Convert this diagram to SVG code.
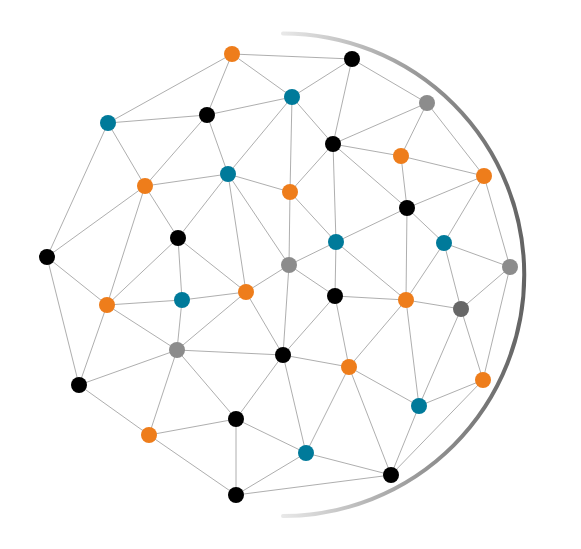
<svg xmlns="http://www.w3.org/2000/svg" width="581" height="549" viewBox="0 0 581 549">
<defs>
<linearGradient id="arcg" gradientUnits="userSpaceOnUse" x1="283" y1="0" x2="525" y2="0">
<stop offset="0" stop-color="#e8e8e8"/>
<stop offset="0.55" stop-color="#9a9a9a"/>
<stop offset="1" stop-color="#636363"/>
</linearGradient>
</defs>
<style>
.e line{stroke:#999;stroke-width:0.8}
.o{fill:#ee7d1b}.b{fill:#007a9a}.k{fill:#000}.g{fill:#8c8c8c}.d{fill:#676767}
</style>
<rect width="581" height="549" fill="#fff"/>
<path d="M283,33.5 A241.25,241.25 0 0 1 283,516" fill="none" stroke="url(#arcg)" stroke-width="4" stroke-linecap="round"/>
<g class="e" id="connectors">
<line x1="232" y1="54" x2="352" y2="59"/>
<line x1="232" y1="54" x2="108" y2="123"/>
<line x1="232" y1="54" x2="207" y2="115"/>
<line x1="232" y1="54" x2="292" y2="97"/>
<line x1="108" y1="123" x2="207" y2="115"/>
<line x1="108" y1="123" x2="145" y2="186"/>
<line x1="108" y1="123" x2="47" y2="257"/>
<line x1="207" y1="115" x2="292" y2="97"/>
<line x1="207" y1="115" x2="145" y2="186"/>
<line x1="207" y1="115" x2="228" y2="174"/>
<line x1="292" y1="97" x2="352" y2="59"/>
<line x1="292" y1="97" x2="228" y2="174"/>
<line x1="292" y1="97" x2="333" y2="144"/>
<line x1="292" y1="97" x2="290" y2="192"/>
<line x1="145" y1="186" x2="228" y2="174"/>
<line x1="145" y1="186" x2="178" y2="238"/>
<line x1="145" y1="186" x2="47" y2="257"/>
<line x1="145" y1="186" x2="107" y2="305"/>
<line x1="228" y1="174" x2="178" y2="238"/>
<line x1="228" y1="174" x2="290" y2="192"/>
<line x1="228" y1="174" x2="289" y2="265"/>
<line x1="228" y1="174" x2="246" y2="292"/>
<line x1="290" y1="192" x2="333" y2="144"/>
<line x1="290" y1="192" x2="336" y2="242"/>
<line x1="290" y1="192" x2="289" y2="265"/>
<line x1="178" y1="238" x2="246" y2="292"/>
<line x1="178" y1="238" x2="107" y2="305"/>
<line x1="178" y1="238" x2="182" y2="300"/>
<line x1="47" y1="257" x2="107" y2="305"/>
<line x1="47" y1="257" x2="79" y2="385"/>
<line x1="352" y1="59" x2="427" y2="103"/>
<line x1="352" y1="59" x2="333" y2="144"/>
<line x1="427" y1="103" x2="333" y2="144"/>
<line x1="427" y1="103" x2="401" y2="156"/>
<line x1="427" y1="103" x2="484" y2="176"/>
<line x1="333" y1="144" x2="401" y2="156"/>
<line x1="333" y1="144" x2="407" y2="208"/>
<line x1="333" y1="144" x2="336" y2="242"/>
<line x1="401" y1="156" x2="484" y2="176"/>
<line x1="401" y1="156" x2="407" y2="208"/>
<line x1="484" y1="176" x2="407" y2="208"/>
<line x1="484" y1="176" x2="444" y2="243"/>
<line x1="484" y1="176" x2="510" y2="267"/>
<line x1="407" y1="208" x2="336" y2="242"/>
<line x1="407" y1="208" x2="444" y2="243"/>
<line x1="407" y1="208" x2="406" y2="300"/>
<line x1="336" y1="242" x2="289" y2="265"/>
<line x1="336" y1="242" x2="335" y2="296"/>
<line x1="336" y1="242" x2="406" y2="300"/>
<line x1="444" y1="243" x2="510" y2="267"/>
<line x1="444" y1="243" x2="461" y2="309"/>
<line x1="444" y1="243" x2="406" y2="300"/>
<line x1="510" y1="267" x2="461" y2="309"/>
<line x1="510" y1="267" x2="483" y2="380"/>
<line x1="289" y1="265" x2="246" y2="292"/>
<line x1="289" y1="265" x2="283" y2="355"/>
<line x1="289" y1="265" x2="335" y2="296"/>
<line x1="107" y1="305" x2="182" y2="300"/>
<line x1="107" y1="305" x2="177" y2="350"/>
<line x1="107" y1="305" x2="79" y2="385"/>
<line x1="182" y1="300" x2="246" y2="292"/>
<line x1="182" y1="300" x2="177" y2="350"/>
<line x1="246" y1="292" x2="177" y2="350"/>
<line x1="246" y1="292" x2="283" y2="355"/>
<line x1="177" y1="350" x2="283" y2="355"/>
<line x1="177" y1="350" x2="79" y2="385"/>
<line x1="177" y1="350" x2="149" y2="435"/>
<line x1="177" y1="350" x2="236" y2="419"/>
<line x1="283" y1="355" x2="335" y2="296"/>
<line x1="283" y1="355" x2="349" y2="367"/>
<line x1="283" y1="355" x2="236" y2="419"/>
<line x1="283" y1="355" x2="306" y2="453"/>
<line x1="335" y1="296" x2="406" y2="300"/>
<line x1="335" y1="296" x2="349" y2="367"/>
<line x1="406" y1="300" x2="461" y2="309"/>
<line x1="406" y1="300" x2="349" y2="367"/>
<line x1="406" y1="300" x2="419" y2="406"/>
<line x1="461" y1="309" x2="419" y2="406"/>
<line x1="461" y1="309" x2="483" y2="380"/>
<line x1="349" y1="367" x2="419" y2="406"/>
<line x1="349" y1="367" x2="306" y2="453"/>
<line x1="349" y1="367" x2="391" y2="475"/>
<line x1="483" y1="380" x2="419" y2="406"/>
<line x1="483" y1="380" x2="391" y2="475"/>
<line x1="419" y1="406" x2="391" y2="475"/>
<line x1="306" y1="453" x2="391" y2="475"/>
<line x1="306" y1="453" x2="236" y2="419"/>
<line x1="306" y1="453" x2="236" y2="495"/>
<line x1="236" y1="495" x2="391" y2="475"/>
<line x1="79" y1="385" x2="149" y2="435"/>
<line x1="149" y1="435" x2="236" y2="419"/>
<line x1="149" y1="435" x2="236" y2="495"/>
<line x1="236" y1="419" x2="236" y2="495"/>
</g>
<g id="nodes">
<g id="n1"><circle class="o" cx="232" cy="54" r="8"/></g>
<g id="n2"><circle class="b" cx="108" cy="123" r="8"/></g>
<g id="n3"><circle class="k" cx="207" cy="115" r="8"/></g>
<g id="n4"><circle class="b" cx="292" cy="97" r="8"/></g>
<g id="n5"><circle class="o" cx="145" cy="186" r="8"/></g>
<g id="n6"><circle class="b" cx="228" cy="174" r="8"/></g>
<g id="n7"><circle class="o" cx="290" cy="192" r="8"/></g>
<g id="n8"><circle class="k" cx="178" cy="238" r="8"/></g>
<g id="n9"><circle class="k" cx="47" cy="257" r="8"/></g>
<g id="n10"><circle class="g" cx="289" cy="265" r="8"/></g>
<g id="n11"><circle class="k" cx="352" cy="59" r="8"/></g>
<g id="n12"><circle class="g" cx="427" cy="103" r="8"/></g>
<g id="n13"><circle class="k" cx="333" cy="144" r="8"/></g>
<g id="n14"><circle class="o" cx="401" cy="156" r="8"/></g>
<g id="n15"><circle class="o" cx="484" cy="176" r="8"/></g>
<g id="n16"><circle class="k" cx="407" cy="208" r="8"/></g>
<g id="n17"><circle class="b" cx="336" cy="242" r="8"/></g>
<g id="n18"><circle class="b" cx="444" cy="243" r="8"/></g>
<g id="n19"><circle class="g" cx="510" cy="267" r="8"/></g>
<g id="n20"><circle class="o" cx="107" cy="305" r="8"/></g>
<g id="n21"><circle class="b" cx="182" cy="300" r="8"/></g>
<g id="n22"><circle class="o" cx="246" cy="292" r="8"/></g>
<g id="n23"><circle class="g" cx="177" cy="350" r="8"/></g>
<g id="n24"><circle class="k" cx="283" cy="355" r="8"/></g>
<g id="n25"><circle class="k" cx="79" cy="385" r="8"/></g>
<g id="n26"><circle class="k" cx="236" cy="419" r="8"/></g>
<g id="n27"><circle class="o" cx="149" cy="435" r="8"/></g>
<g id="n28"><circle class="k" cx="236" cy="495" r="8"/></g>
<g id="n29"><circle class="k" cx="335" cy="296" r="8"/></g>
<g id="n30"><circle class="o" cx="406" cy="300" r="8"/></g>
<g id="n31"><circle class="d" cx="461" cy="309" r="8"/></g>
<g id="n32"><circle class="o" cx="349" cy="367" r="8"/></g>
<g id="n33"><circle class="o" cx="483" cy="380" r="8"/></g>
<g id="n34"><circle class="b" cx="419" cy="406" r="8"/></g>
<g id="n35"><circle class="b" cx="306" cy="453" r="8"/></g>
<g id="n36"><circle class="k" cx="391" cy="475" r="8"/></g>
</g>
</svg>
